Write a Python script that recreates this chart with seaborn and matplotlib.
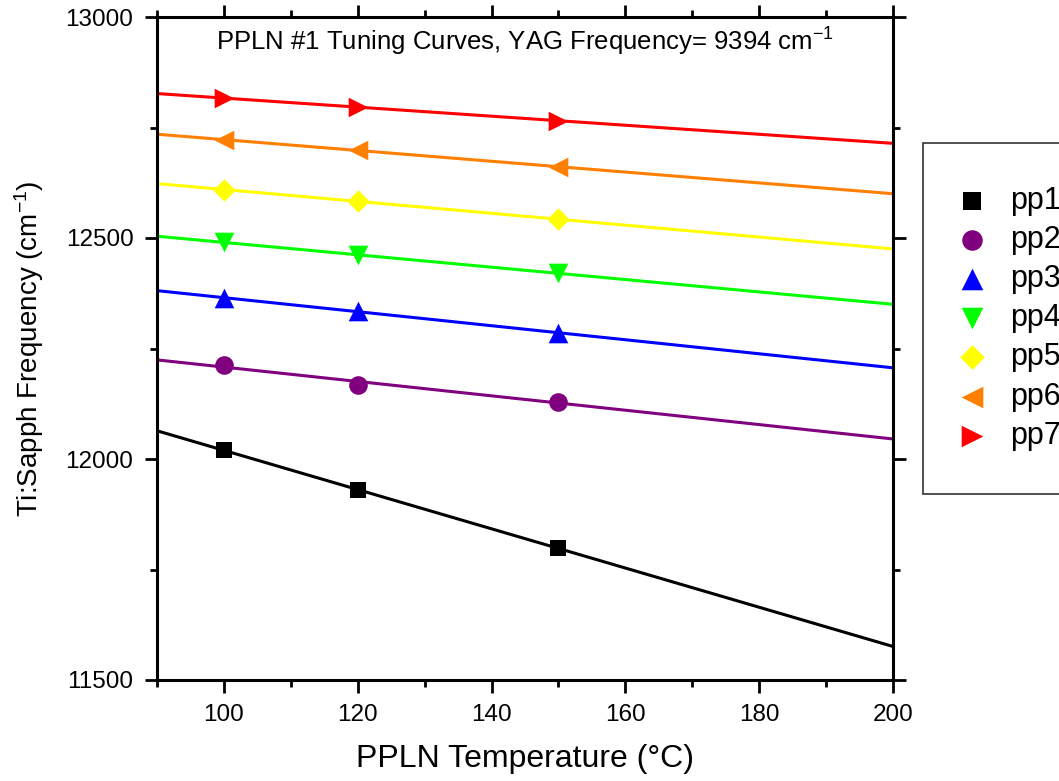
import numpy as np
import pandas as pd
import matplotlib
matplotlib.use("Agg")
import matplotlib.pyplot as plt
from matplotlib.ticker import MultipleLocator
import seaborn as sns

# ---- data ----
temps = [100, 120, 150]
series_names = ["pp1", "pp2", "pp3", "pp4", "pp5", "pp6", "pp7"]
pp1 = [12020, 11930, 11798]
pp2 = [12213, 12167, 12130]
pp3 = [12364, 12335, 12285]
pp4 = [12490, 12462, 12420]
pp5 = [12609, 12584, 12542]
pp6 = [12722, 12699, 12661]
pp7 = [12816, 12797, 12765]
series_values = [pp1, pp2, pp3, pp4, pp5, pp6, pp7]
colors = ["#000000", "#800080", "#0000FF", "#00FF00", "#FFFF00", "#FF8000", "#FF0000"]
markers = ["s", "o", "^", "v", "D", "<", ">"]
marker_sizes = [135, 180, 200, 200, 130, 200, 200]
x_ticks = [100, 120, 140, 160, 180, 200]
y_ticks = [11500, 12000, 12500, 13000]

sns.set_theme(style="ticks")
plt.rcParams["font.family"] = ["Liberation Sans", "DejaVu Sans"]
plt.rcParams["mathtext.fontset"] = "custom"
plt.rcParams["mathtext.rm"] = "Liberation Sans"
plt.rcParams["mathtext.it"] = "Liberation Sans"
plt.rcParams["text.color"] = "black"
plt.rcParams["axes.labelcolor"] = "black"
plt.rcParams["xtick.color"] = "black"
plt.rcParams["ytick.color"] = "black"

fig = plt.figure(figsize=(10.59, 7.81), dpi=100)
ax = fig.add_axes([157 / 1059, 1 - 680 / 781, 736 / 1059, 663 / 781])
ax.set_xlim(90, 200)
ax.set_ylim(11500, 13000)

for name, vals, c, m, s in zip(series_names, series_values, colors, markers, marker_sizes):
    df = pd.DataFrame({"T": temps, "f": vals})
    sns.regplot(data=df, x="T", y="f", ax=ax, ci=None, truncate=False,
                marker=m, color=c, label=name,
                scatter_kws={"s": s, "zorder": 3, "linewidths": 0, "alpha": 1},
                line_kws={"linewidth": 2.2, "zorder": 2})

ax.set_xlim(90, 200)
ax.set_ylim(11500, 13000)
ax.set_xticks(x_ticks)
ax.set_yticks(y_ticks)
ax.xaxis.set_minor_locator(MultipleLocator(10))
ax.yaxis.set_minor_locator(MultipleLocator(250))

for sp in ax.spines.values():
    sp.set_visible(True)
    sp.set_linewidth(2.2)
    sp.set_color("black")

ax.tick_params(which="both", direction="out", top=True, right=True,
               labeltop=False, labelright=False, color="black", labelcolor="black")
ax.tick_params(which="major", length=9, width=2)
ax.tick_params(which="minor", length=5, width=2)
ax.tick_params(axis="both", labelsize=17.5, pad=8)

ax.set_xlabel("PPLN Temperature (°C)", fontsize=23, labelpad=13)
ax.set_ylabel("Ti:Sapph Frequency (cm$^{-1}$)", fontsize=20, labelpad=14)

ax.text(0.5, 0.962, "PPLN #1 Tuning Curves, YAG Frequency= 9394 cm$^{-1}$",
        transform=ax.transAxes, ha="center", va="center", fontsize=18.5)

leg = ax.legend(loc="upper left", bbox_to_anchor=(923 / 1059, 1 - 143 / 781),
                bbox_transform=fig.transFigure, fontsize=22, frameon=True,
                fancybox=False, borderpad=1.4, labelspacing=0.3,
                handlelength=0.4, handletextpad=1.05, borderaxespad=0,
                markerscale=1.1)
leg.get_frame().set_edgecolor("#333333")
leg.get_frame().set_linewidth(1.2)
leg.get_frame().set_alpha(1)

fig.savefig("out.png", dpi=100)
